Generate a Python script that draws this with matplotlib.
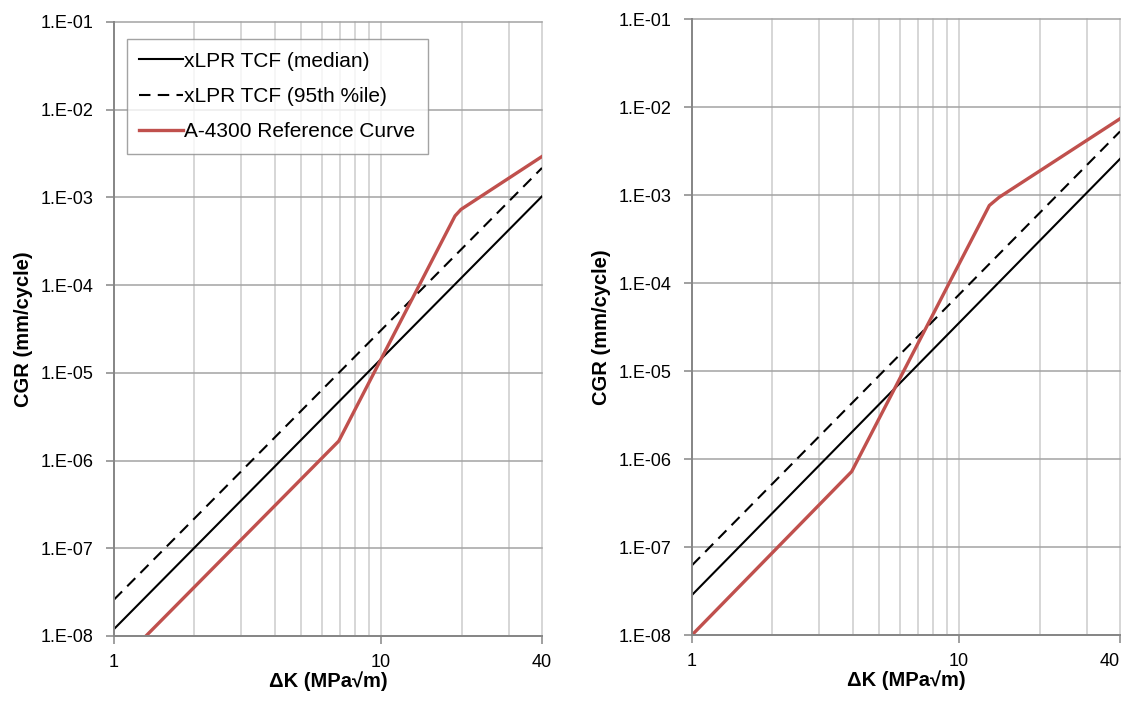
import matplotlib
matplotlib.use("Agg")
import matplotlib.pyplot as plt
from matplotlib.ticker import FixedLocator, FixedFormatter, NullFormatter

# ---------------- data ----------------
dk_ends = [1, 40]

# left panel
left_median = [1.2e-8, 1.03e-3]
left_p95 = [2.6e-8, 2.17e-3]
left_ref_dk = [1.317, 6.94, 18.9, 19.9, 40]
left_ref_cgr = [1.0e-8, 1.67e-6, 6.15e-4, 7.3e-4, 2.93e-3]

# right panel
right_median = [2.85e-8, 2.57e-3]
right_p95 = [6.2e-8, 5.27e-3]
right_ref_dk = [1.0, 3.96, 12.97, 14.1, 40]
right_ref_cgr = [1.0e-8, 7.2e-7, 7.6e-4, 9.4e-4, 7.35e-3]

legend_labels = ["xLPR TCF (median)", "xLPR TCF (95th %ile)", "A-4300 Reference Curve"]
x_ticks = [1, 10, 40]
x_tick_labels = ["1", "10", "40"]
x_minor = [2, 3, 4, 5, 6, 7, 8, 9, 20, 30]
y_ticks = [1e-8, 1e-7, 1e-6, 1e-5, 1e-4, 1e-3, 1e-2, 1e-1]
y_tick_labels = ["1.E-08", "1.E-07", "1.E-06", "1.E-05", "1.E-04", "1.E-03", "1.E-02", "1.E-01"]
x_label = "ΔK (MPa√m)"
y_label = "CGR (mm/cycle)"

# ---------------- style ----------------
plt.rcParams["font.family"] = ["Liberation Sans", "DejaVu Sans"]
RED = "#C0504D"
HGRID = "#a3a3a3"
VGRID = "#cccccc"
SPINE = "#868686"

fig = plt.figure(figsize=(11.27, 7.02), dpi=100)
W, H = 1127, 702

def make_ax(l, r, t, b):
    return fig.add_axes([l / W, 1 - b / H, (r - l) / W, (b - t) / H])

axL = make_ax(114, 542, 22, 636)
axR = make_ax(692, 1120, 19, 635)

def style(ax, median, p95, rdk, rcgr, last_right=False):
    ax.set_xscale("log")
    ax.set_yscale("log")
    ax.set_xlim(1, 40)
    ax.set_ylim(1e-8, 1e-1)
    # grid
    for v in x_minor + x_ticks:
        ax.axvline(v, color=VGRID, lw=1.1, zorder=0.5, clip_on=False)
    for v in y_ticks:
        ax.axhline(v, color=HGRID, lw=1.1, zorder=0.6, clip_on=False)
    l1, = ax.plot(dk_ends, median, color="black", lw=1.5, zorder=3)
    l2, = ax.plot(dk_ends, p95, color="black", lw=1.5, dashes=(5.5, 3.5), zorder=3)
    l3, = ax.plot(rdk, rcgr, color=RED, lw=2.4, zorder=4, solid_joinstyle="round")
    ax.xaxis.set_major_locator(FixedLocator(x_ticks))
    ax.xaxis.set_major_formatter(FixedFormatter(x_tick_labels))
    ax.xaxis.set_minor_locator(FixedLocator([]))
    ax.xaxis.set_minor_formatter(NullFormatter())
    ax.yaxis.set_major_locator(FixedLocator(y_ticks))
    ax.yaxis.set_major_formatter(FixedFormatter(y_tick_labels))
    ax.yaxis.set_minor_locator(FixedLocator([]))
    ax.tick_params(axis="both", which="major", length=6, width=1.1, color=SPINE,
                   labelsize=13, labelcolor="black")
    ax.tick_params(axis="y", pad=9)
    ax.tick_params(axis="x", pad=7)
    for s in ("left", "bottom"):
        ax.spines[s].set_color(SPINE)
        ax.spines[s].set_linewidth(1.4)
        ax.spines[s].set_zorder(5)
    ax.spines["top"].set_visible(False)
    ax.spines["right"].set_visible(False)
    ax.set_xlabel(x_label, fontsize=14.5, fontweight="bold")
    ax.set_ylabel(y_label, fontsize=14.5, fontweight="bold")
    ax.xaxis.set_label_coords(0.5, -0.058)
    ax.yaxis.set_label_coords(-0.19, 0.5)
    if last_right:
        labs = ax.get_xticklabels()
        labs[-1].set_horizontalalignment("right")
        labs[-1].set_x(40)
    return [l1, l2, l3]

handles = style(axL, left_median, left_p95, left_ref_dk, left_ref_cgr)
style(axR, right_median, right_p95, right_ref_dk, right_ref_cgr, last_right=True)

leg = axL.legend(handles, legend_labels, loc="upper left",
                 bbox_to_anchor=(0.030, 0.972), borderaxespad=0,
                 fontsize=15, frameon=True, fancybox=False,
                 handlelength=2.1, handletextpad=0.05, labelspacing=0.78,
                 borderpad=0.6)
leg.get_frame().set_edgecolor("#8c8c8c")
leg.get_frame().set_linewidth(1.0)
leg.set_zorder(10)

fig.savefig("out.png", dpi=100)
